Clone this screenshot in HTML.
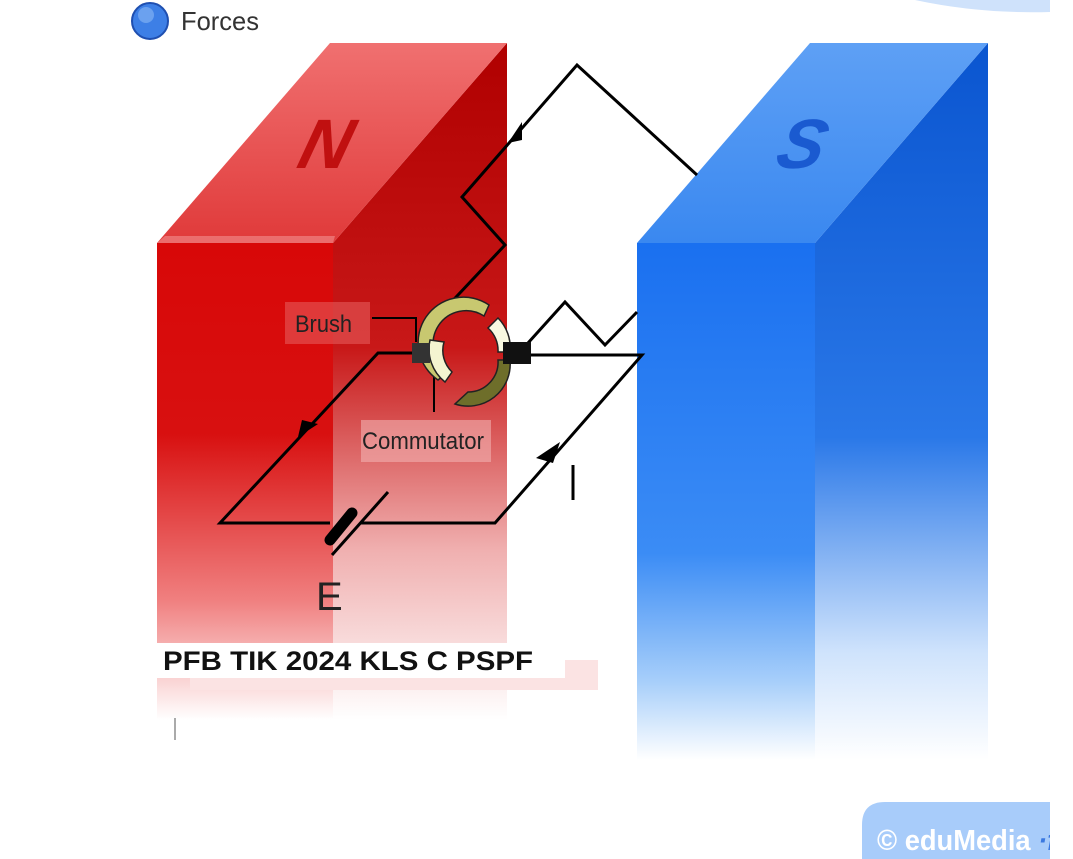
<!DOCTYPE html>
<html><head><style>body{margin:0;background:#fff;}svg{display:block}</style></head><body>
<svg width="1073" height="859" viewBox="0 0 1073 859" xmlns="http://www.w3.org/2000/svg" font-family="Liberation Sans, sans-serif">
<defs>
<linearGradient id="nf" x1="0" y1="0" x2="0" y2="1"><stop offset="0" stop-color="#d80808"/><stop offset="0.4" stop-color="#d81010"/><stop offset="0.75" stop-color="#f08080"/><stop offset="1" stop-color="#fff"/></linearGradient>
<linearGradient id="ns" x1="0" y1="0" x2="0" y2="1"><stop offset="0" stop-color="#b00000"/><stop offset="0.45" stop-color="#c81818"/><stop offset="0.75" stop-color="#f0b0b0"/><stop offset="1" stop-color="#fff"/></linearGradient>
<linearGradient id="nt" x1="0" y1="1" x2="0" y2="0"><stop offset="0" stop-color="#e03a3a"/><stop offset="1" stop-color="#f07070"/></linearGradient>
<linearGradient id="sf" x1="0" y1="0" x2="0" y2="1"><stop offset="0" stop-color="#1a70f0"/><stop offset="0.6" stop-color="#3b8cf5"/><stop offset="0.85" stop-color="#a8cffa"/><stop offset="1" stop-color="#fff"/></linearGradient>
<linearGradient id="ss" x1="0" y1="0" x2="0" y2="1"><stop offset="0" stop-color="#0a55d0"/><stop offset="0.55" stop-color="#2a78e8"/><stop offset="0.85" stop-color="#cfe3fc"/><stop offset="1" stop-color="#fff"/></linearGradient>
<linearGradient id="st" x1="0" y1="1" x2="0" y2="0"><stop offset="0" stop-color="#3a88f0"/><stop offset="1" stop-color="#5ea0f5"/></linearGradient>
</defs>
<path d="M915 0 Q980 14 1050 12 L1050 0Z" fill="#cfe2fb"/>
<circle cx="150" cy="21" r="18" fill="#3d7fe6" stroke="#1f4fb0" stroke-width="2"/>
<circle cx="146" cy="15" r="8" fill="#8ab8f5" opacity="0.6"/>
<text x="181" y="30" font-size="26" fill="#333" textLength="78" lengthAdjust="spacingAndGlyphs">Forces</text>
<!-- N magnet -->
<polygon points="333,243 507,43 507,720 333,720" fill="url(#ns)"/>
<polygon points="157,243 333,243 333,720 157,720" fill="url(#nf)"/>
<polygon points="157,243 333,243 507,43 330,43" fill="url(#nt)"/>
<polygon points="157,243 165,236 335,236 333,243" fill="#f29090" opacity="0.6"/>
<text x="300" y="168" font-size="70" font-weight="bold" font-style="italic" fill="#c01010" transform="skewX(-15) translate(40,0)">N</text>
<!-- S magnet -->
<polygon points="815,243 988,43 988,760 815,760" fill="url(#ss)"/>
<polygon points="637,243 815,243 815,760 637,760" fill="url(#sf)"/>
<polygon points="637,243 815,243 988,43 810,43" fill="url(#st)"/>
<text x="778" y="168" font-size="70" font-weight="bold" font-style="italic" fill="#1a5ad0" transform="skewX(-15) translate(40,0)">S</text>
<!-- wires -->
<g fill="none" stroke="#000" stroke-width="3">
<polyline points="442,312 505,245 462,197 577,65 697,175"/>
<polyline points="528,343 565,302 605,345 637,312"/>
<polyline points="412,353 378,353 220,523 330,523"/>
<polyline points="360,523 495,523 642,355 530,355"/>
<line x1="434" y1="368" x2="434" y2="412" stroke-width="2"/>
<polyline points="372,318 416,318 416,342" stroke-width="2"/>
<line x1="332" y1="555" x2="388" y2="492"/>
</g>
<line x1="330" y1="540" x2="352" y2="513" stroke="#000" stroke-width="11" stroke-linecap="round"/>
<polygon points="508,143 522,122 522,140" fill="#000"/>
<polygon points="298,437 302,420 318,424" fill="#000"/>
<polygon points="560,442 536,458 553,463" fill="#000"/>
<!-- commutator -->
<g stroke="#222" stroke-width="1.5">
<path d="M438,380 A40 40 0 0 1 489,305 L484,316 A29 29 0 0 0 448,371 Z" fill="#c8c870"/>
<path d="M498,318 A42 42 0 0 1 510,352 L498,352 A30 30 0 0 0 488,328 Z" fill="#f8f8e0"/>
<path d="M510,360 A42 42 0 0 1 455,404 L468,392 A30 30 0 0 0 498,360 Z" fill="#6e6e2a"/>
<path d="M430,340 A42 42 0 0 0 445,382 L452,372 A30 30 0 0 1 444,342 Z" fill="#f4f4d0"/>
</g>
<rect x="412" y="343" width="18" height="20" fill="#333"/>
<rect x="503" y="342" width="28" height="22" fill="#111"/>
<!-- labels -->
<rect x="285" y="302" width="85" height="42" fill="#e86060" opacity="0.55"/>
<text x="295" y="332" font-size="24" fill="#222" textLength="57" lengthAdjust="spacingAndGlyphs">Brush</text>
<rect x="361" y="420" width="130" height="42" fill="#f2b0b0" opacity="0.6"/>
<text x="362" y="449" font-size="24" fill="#222" textLength="122" lengthAdjust="spacingAndGlyphs">Commutator</text>
<line x1="573" y1="465" x2="573" y2="500" stroke="#000" stroke-width="3"/>
<text x="316" y="610" font-size="40" fill="#222">E</text>
<rect x="190" y="660" width="408" height="30" fill="#fbe3e3"/>
<rect x="157" y="643" width="408" height="35" fill="#fff"/>
<text x="163" y="670" font-size="27" font-weight="bold" fill="#111" textLength="370" lengthAdjust="spacingAndGlyphs">PFB TIK 2024 KLS C PSPF</text>
<line x1="175" y1="718" x2="175" y2="740" stroke="#555" stroke-width="1"/>
<!-- logo -->
<path d="M862 859 L862 825 Q862 802 885 802 L1050 802 L1050 859Z" fill="#a8ccfa"/>
<text x="877" y="850" font-size="29" font-weight="bold" fill="#fff" textLength="190" lengthAdjust="spacingAndGlyphs">© eduMedia <tspan fill="#3a78e0" font-style="italic">·fr</tspan></text>
<rect x="1050" y="0" width="23" height="859" fill="#fff"/>
</svg>
</body></html>
